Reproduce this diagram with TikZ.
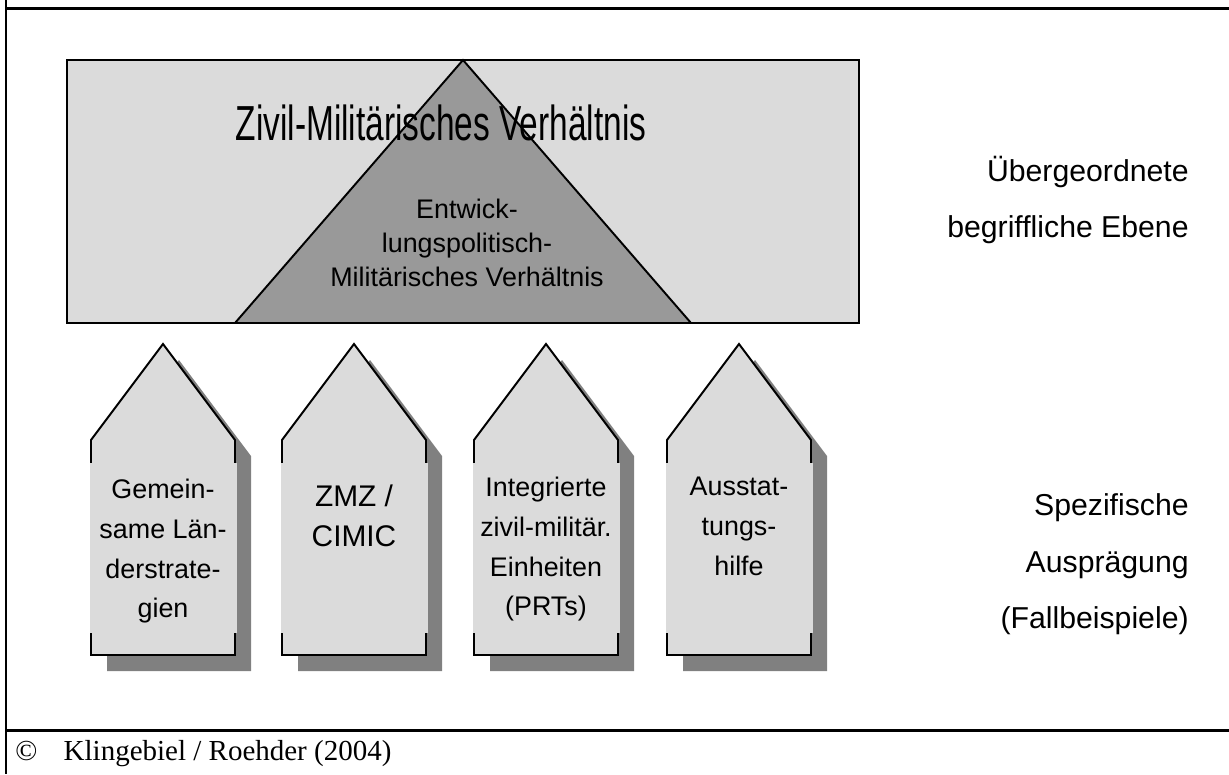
\documentclass[tikz,border=0pt]{standalone}
\usepackage{fontspec}
\setmainfont{Liberation Sans}
\newfontfamily\narrowfont[FakeStretch=0.68]{Liberation Sans}
\newfontfamily\sourcefont{Liberation Serif}
\definecolor{lightbox}{gray}{0.86}
\definecolor{pyramid}{gray}{0.6}
\definecolor{shade}{gray}{0.5}

\begin{document}
\begin{tikzpicture}[x=0.02cm,y=-0.02cm]
			\tikzstyle{frame}=[draw=black,line width=1.7pt]
			\tikzstyle{outline}=[draw=black,line width=1.1pt,fill=lightbox,line join=miter]
			\tikzstyle{shadow}=[fill=shade,draw=none]
			\tikzstyle{cover}=[fill=lightbox,draw=none]
			\tikzstyle{caption}=[
				font=\fontsize{15.3}{22.6}\selectfont,
				align=center, inner sep=0pt, anchor=north
			]
			\tikzstyle{level}=[font=\fontsize{17.2}{20}\selectfont,inner sep=0pt,anchor=base east]
			\useasboundingbox (0,0) rectangle (1229,774);
			% frame
			\draw[frame] (6,0) -- (6,774);
			\draw[frame] (6,8.5) -- (1229,8.5);
			\draw[frame] (6,730) -- (1229,730);
			% upper level
			\draw[outline,line width=1.3pt] (67,60) rectangle (859,323);
			\draw[outline,fill=pyramid] (463,60) -- (691,323) -- (235,323) -- cycle;
			\node[font=\narrowfont\fontsize{28}{30}\selectfont,inner sep=0pt,anchor=base] (zmv) at (441,140) {Zivil-Militärisches Verhältnis};
			\node[font=\fontsize{15.3}{19.2}\selectfont,align=center,inner sep=0pt,anchor=north] (emv) at (467,199) {Entwick-\\lungspolitisch-\\Militärisches Verhältnis};
			% case studies
			\fill[shadow] (107,456) -- (179,360) -- (251,456) -- (251,671) -- (107,671) -- cycle;
			\draw[outline] (91,440) -- (163,344) -- (235,440) -- (235,655) -- (91,655) -- cycle;
			\fill[cover] (89.5,463) rectangle (236.5,633);
			\node[caption] (laender) at (163,479) {Gemein-\\same Län-\\derstrate-\\gien};
			\fill[shadow] (298,456) -- (370,360) -- (442,456) -- (442,671) -- (298,671) -- cycle;
			\draw[outline] (282,440) -- (354,344) -- (426,440) -- (426,655) -- (282,655) -- cycle;
			\fill[cover] (280.5,463) rectangle (427.5,633);
			\node[caption,font=\fontsize{17}{23.3}\selectfont] (zmz) at (354,484) {ZMZ /\\CIMIC};
			\fill[shadow] (490,456) -- (562,360) -- (634,456) -- (634,671) -- (490,671) -- cycle;
			\draw[outline] (474,440) -- (546,344) -- (618,440) -- (618,655) -- (474,655) -- cycle;
			\fill[cover] (472.5,463) rectangle (619.5,633);
			\node[caption] (prt) at (546,477) {Integrierte\\zivil-militär.\\Einheiten\\(PRTs)};
			\fill[shadow] (683,456) -- (755,360) -- (827,456) -- (827,671) -- (683,671) -- cycle;
			\draw[outline] (667,440) -- (739,344) -- (811,440) -- (811,655) -- (667,655) -- cycle;
			\fill[cover] (665.5,463) rectangle (812.5,633);
			\node[caption] (hilfe) at (739,477) {Ausstat-\\tungs-\\hilfe};
			% level labels
			\node[level] (ueber1) at (1189,181) {Übergeordnete};
			\node[level] (ueber2) at (1189,237) {begriffliche Ebene};
			\node[level] (spez1) at (1189,515) {Spezifische};
			\node[level] (spez2) at (1189,572) {Ausprägung};
			\node[level] (spez3) at (1189,628) {(Fallbeispiele)};
			% source
			\node[font=\sourcefont\fontsize{16.5}{19}\selectfont,inner sep=0pt,anchor=base west] (source) at (15,760) {©\hspace{15pt}Klingebiel / Roehder (2004)};
		\end{tikzpicture}
\end{document}
